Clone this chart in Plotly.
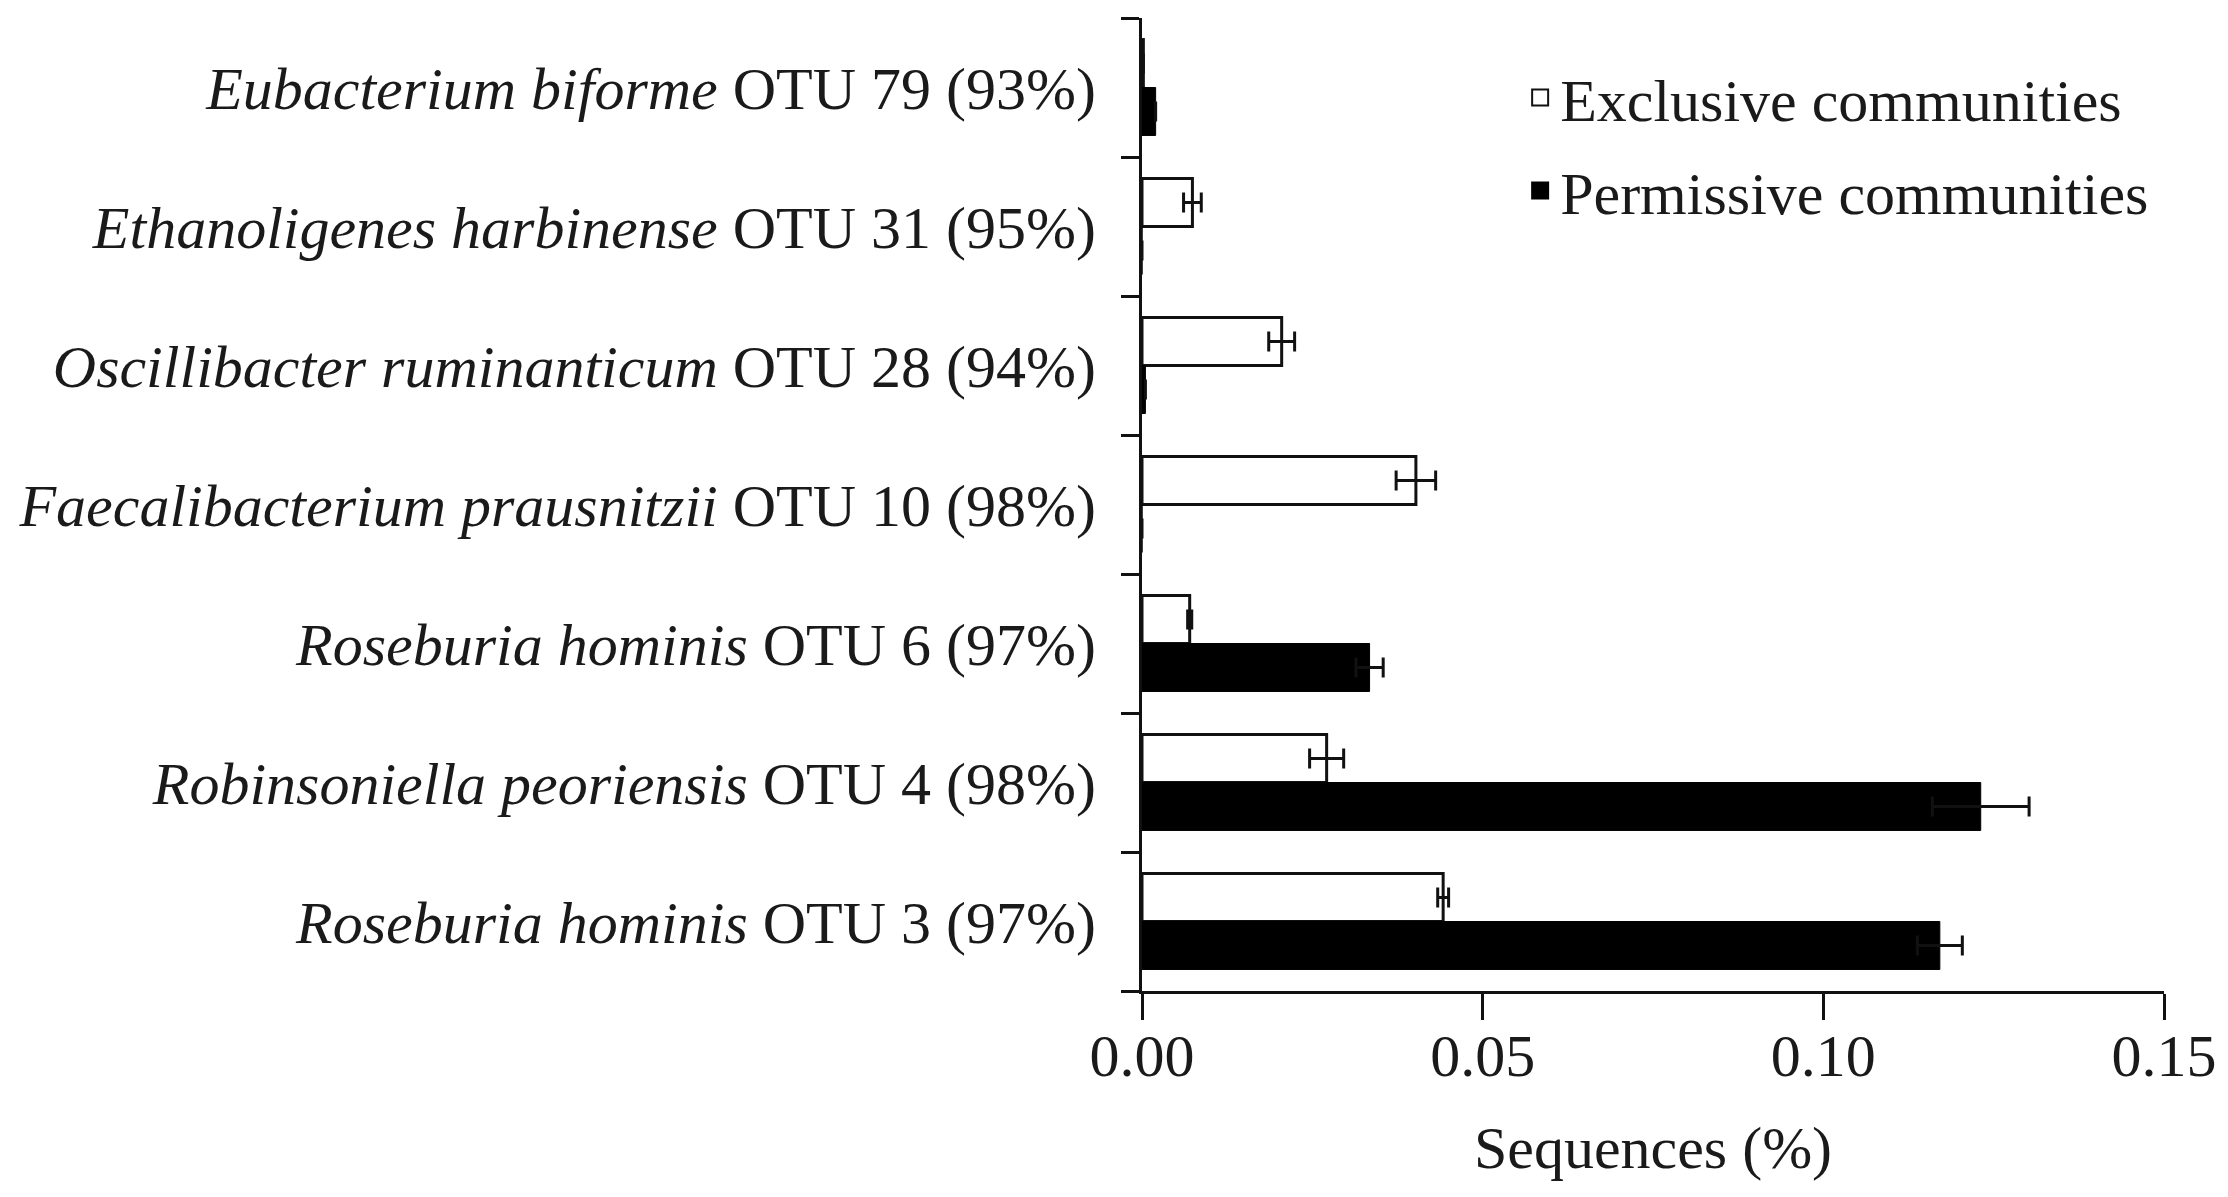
import plotly.graph_objects as go

# Data (top to bottom)
species = ["Eubacterium biforme", "Ethanoligenes harbinense", "Oscillibacter ruminanticum",
           "Faecalibacterium prausnitzii", "Roseburia hominis", "Robinsoniella peoriensis",
           "Roseburia hominis"]
otus = ["OTU 79 (93%)", "OTU 31 (95%)", "OTU 28 (94%)", "OTU 10 (98%)",
        "OTU 6 (97%)", "OTU 4 (98%)", "OTU 3 (97%)"]
categories = ["OTU79", "OTU31", "OTU28", "OTU10", "OTU6", "OTU4", "OTU3"]

exclusive = [0.0002, 0.0074, 0.0205, 0.0402, 0.0070, 0.0271, 0.0442]
exclusive_err = [0.0, 0.0013, 0.0019, 0.0029, 0.0003, 0.0025, 0.0008]
permissive = [0.0020, 0.0, 0.0005, 0.0, 0.0334, 0.1231, 0.1171]
permissive_err = [0.0, 0.0, 0.0, 0.0, 0.0020, 0.0071, 0.0033]

series_names = ["Exclusive communities", "Permissive communities"]
x_ticks = [0.0, 0.05, 0.10, 0.15]

tick_text = [f"<i>{s}</i> {o}" for s, o in zip(species, otus)]

FONT = "Liberation Serif"
TXT = "#1a1a1a"
FS = 60

fig = go.Figure()
fig.add_trace(go.Bar(
    y=categories, x=exclusive, orientation="h", name=series_names[0],
    marker=dict(color="white", line=dict(color="#111", width=3)),
    error_x=dict(type="data", array=exclusive_err, visible=True, color="#111",
                 thickness=3, width=10),
    showlegend=False,
))
fig.add_trace(go.Bar(
    y=categories, x=permissive, orientation="h", name=series_names[1],
    marker=dict(color="black", line=dict(color="black", width=1)),
    error_x=dict(type="data", array=permissive_err, visible=True, color="#111",
                 thickness=3, width=10),
    showlegend=False,
))
# legend entries (larger square glyphs)
fig.add_trace(go.Scatter(
    x=[None], y=[None], mode="markers", name=series_names[0], legendgroup="a",
    marker=dict(symbol="square", size=16, color="white", line=dict(color="#111", width=2)),
))
fig.add_trace(go.Scatter(
    x=[None], y=[None], mode="markers", name=series_names[1], legendgroup="b",
    marker=dict(symbol="square", size=16, color="black", line=dict(color="black", width=2)),
))

fig.update_layout(
    width=2228, height=1197,
    margin=dict(l=1132, r=72, t=10, b=214),
    paper_bgcolor="white", plot_bgcolor="white",
    barmode="group", bargap=0.31, bargroupgap=0.0,
    font=dict(family=FONT, size=FS, color=TXT),
    showlegend=True,
    legend=dict(x=0.37, y=0.965, xanchor="left", yanchor="top",
                font=dict(family=FONT, size=FS, color=TXT),
                bgcolor="rgba(0,0,0,0)", tracegroupgap=12, itemwidth=30,
                itemsizing="trace"),
)
fig.update_xaxes(
    range=[0, 0.15], tickvals=x_ticks, tickformat=".2f",
    showline=True, linecolor="#111", linewidth=3,
    ticks="outside", ticklen=26, tickwidth=3, tickcolor="#111",
    ticklabelstandoff=-16,
    showgrid=False, zeroline=False,
    tickfont=dict(family=FONT, size=FS, color=TXT),
    title=dict(text="Sequences (%)", font=dict(family=FONT, size=FS, color=TXT), standoff=38),
)
fig.update_yaxes(
    categoryorder="array", categoryarray=categories,
    autorange="reversed",
    tickvals=categories, ticktext=tick_text,
    showline=True, linecolor="#111", linewidth=3,
    ticks="outside", ticklen=18, tickwidth=3, tickcolor="#111",
    tickson="boundaries", ticklabelstandoff=31,
    showgrid=False, zeroline=False,
    tickfont=dict(family=FONT, size=FS, color=TXT),
)

fig.write_html("out.html")
